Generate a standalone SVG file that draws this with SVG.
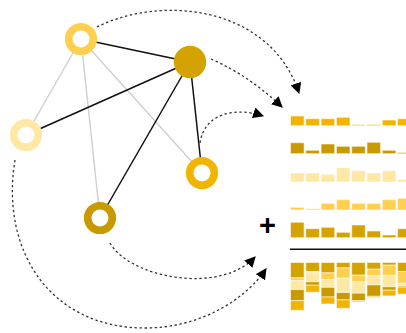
<svg xmlns="http://www.w3.org/2000/svg" width="406" height="333" viewBox="0 0 406 333">
<style>
.e{stroke:#111;stroke-width:1.5;fill:none}
.g{stroke:#cfcfcf;stroke-width:1.4;fill:none}
.d{stroke:#333;stroke-width:1.3;stroke-dasharray:2.4 2.6;fill:none;marker-end:url(#ah)}
.ring{fill:#fff;stroke-width:7.6}
.b rect{stroke:#fff;stroke-opacity:0.55;stroke-width:1}
.c1{fill:#F2B400}.c2{fill:#C99A00}.c3{fill:#FFE8A3}.c4{fill:#FFCF50}.c5{fill:#D4A300}
</style>
<defs>
<marker id="ah" viewBox="0 0 10 10" refX="9" refY="5" markerWidth="11" markerHeight="11" orient="auto" markerUnits="userSpaceOnUse">
<path d="M0,0 L10,5 L0,10 z" fill="#000"/>
</marker>
</defs>
<rect width="406" height="333" fill="#fff"/>
<g id="connectors">
<line class="g" x1="81" y1="39" x2="26" y2="135"/>
<line class="g" x1="81" y1="39" x2="100" y2="218"/>
<line class="g" x1="81" y1="39" x2="202" y2="173"/>
<line class="e" x1="81" y1="39" x2="190" y2="62"/>
<line class="e" x1="190" y1="62" x2="26" y2="135"/>
<line class="e" x1="190" y1="62" x2="100" y2="218"/>
<line class="e" x1="190" y1="62" x2="202" y2="173"/>
<path class="d" d="M97 27 C160 -5 270 5 299 93"/>
<path class="d" d="M211 59 C240 72 262 88 282 107"/>
<path class="d" d="M200 143 C205 110 240 108 263 116"/>
<path class="d" d="M110 243 C130 278 220 295 255 257"/>
<path class="d" d="M15 160 C0 250 50 328 145 328 C200 328 245 300 266 269"/>
</g>
<g id="node-a"><circle class="ring" cx="81" cy="39" r="12.3" stroke="#FFCF50"/></g>
<g id="node-b"><circle cx="190" cy="62" r="16.2" fill="#D4A300"/></g>
<g id="node-c"><circle class="ring" cx="26" cy="135" r="12.3" stroke="#FFE8A3"/></g>
<g id="node-d"><circle class="ring" cx="100" cy="218" r="12.3" stroke="#C99A00"/></g>
<g id="node-e"><circle class="ring" cx="202" cy="173" r="12.3" stroke="#F2B400"/></g>
<g id="bars" class="b">
<g class="c1">
<rect x="290.5" y="116" width="13.6" height="9.7"/>
<rect x="305.8" y="118.7" width="13.6" height="7"/>
<rect x="321.1" y="118.7" width="13.6" height="7"/>
<rect x="336.4" y="117.3" width="13.6" height="8.4"/>
<rect x="351.7" y="124.5" width="13.6" height="1.2"/>
<rect x="367" y="124.5" width="13.6" height="1.2"/>
<rect x="382.3" y="120" width="13.6" height="5.7"/>
<rect x="397.6" y="118.7" width="13.6" height="7"/>
</g>
<g class="c2">
<rect x="290.5" y="142.7" width="13.6" height="11"/>
<rect x="305.8" y="150.3" width="13.6" height="3.4"/>
<rect x="321.1" y="144" width="13.6" height="9.7"/>
<rect x="336.4" y="146.3" width="13.6" height="7.4"/>
<rect x="351.7" y="146.3" width="13.6" height="7.4"/>
<rect x="367" y="142.3" width="13.6" height="11.4"/>
<rect x="382.3" y="150.3" width="13.6" height="3.4"/>
<rect x="397.6" y="152.5" width="13.6" height="1.2"/>
</g>
<g class="c3">
<rect x="290.5" y="173" width="13.6" height="9"/>
<rect x="305.8" y="173" width="13.6" height="9"/>
<rect x="321.1" y="174.3" width="13.6" height="7.7"/>
<rect x="336.4" y="167.7" width="13.6" height="14.3"/>
<rect x="351.7" y="170.7" width="13.6" height="11.3"/>
<rect x="367" y="173" width="13.6" height="9"/>
<rect x="382.3" y="170.7" width="13.6" height="11.3"/>
<rect x="397.6" y="179.3" width="13.6" height="2.7"/>
</g>
<g class="c4">
<rect x="290.5" y="207.3" width="13.6" height="2.7"/>
<rect x="305.8" y="208.7" width="13.6" height="1.3"/>
<rect x="321.1" y="203.3" width="13.6" height="6.7"/>
<rect x="336.4" y="199.7" width="13.6" height="10.3"/>
<rect x="351.7" y="203.3" width="13.6" height="6.7"/>
<rect x="367" y="203.3" width="13.6" height="6.7"/>
<rect x="382.3" y="199.7" width="13.6" height="10.3"/>
<rect x="397.6" y="198.3" width="13.6" height="11.7"/>
</g>
<g class="c5">
<rect x="290.5" y="222.3" width="13.6" height="15.4"/>
<rect x="305.8" y="228.7" width="13.6" height="9"/>
<rect x="321.1" y="227.3" width="13.6" height="10.4"/>
<rect x="336.4" y="232.3" width="13.6" height="5.4"/>
<rect x="351.7" y="225" width="13.6" height="12.7"/>
<rect x="367" y="231" width="13.6" height="6.7"/>
<rect x="382.3" y="235" width="13.6" height="2.7"/>
<rect x="397.6" y="228.7" width="13.6" height="9"/>
</g>
</g>
<text x="267.5" y="235" font-family="Liberation Sans, Arial, sans-serif" font-size="29" font-weight="bold" text-anchor="middle" fill="#000">+</text>
<line x1="290" y1="249.3" x2="406" y2="249.3" stroke="#111" stroke-width="1.5"/>
<g id="stacked" class="b">
<rect class="c5" x="290.5" y="262.5" width="13.6" height="15.4"/>
<rect class="c4" x="290.5" y="277.9" width="13.6" height="2.7"/>
<rect class="c3" x="290.5" y="280.6" width="13.6" height="9"/>
<rect class="c2" x="290.5" y="289.6" width="13.6" height="11"/>
<rect class="c1" x="290.5" y="300.6" width="13.6" height="9.7"/>
<rect class="c5" x="305.8" y="262.5" width="13.6" height="9"/>
<rect class="c4" x="305.8" y="271.5" width="13.6" height="1.3"/>
<rect class="c3" x="305.8" y="272.8" width="13.6" height="9"/>
<rect class="c2" x="305.8" y="281.8" width="13.6" height="3.4"/>
<rect class="c1" x="305.8" y="285.2" width="13.6" height="7"/>
<rect class="c5" x="321.1" y="262.5" width="13.6" height="10.4"/>
<rect class="c4" x="321.1" y="272.9" width="13.6" height="6.7"/>
<rect class="c3" x="321.1" y="279.6" width="13.6" height="7.7"/>
<rect class="c2" x="321.1" y="287.3" width="13.6" height="9.7"/>
<rect class="c1" x="321.1" y="297" width="13.6" height="7"/>
<rect class="c5" x="336.4" y="262.5" width="13.6" height="5.4"/>
<rect class="c4" x="336.4" y="267.9" width="13.6" height="10.3"/>
<rect class="c3" x="336.4" y="278.2" width="13.6" height="14.3"/>
<rect class="c2" x="336.4" y="292.5" width="13.6" height="7.4"/>
<rect class="c1" x="336.4" y="299.9" width="13.6" height="8.4"/>
<rect class="c5" x="351.7" y="262.5" width="13.6" height="12.7"/>
<rect class="c4" x="351.7" y="275.2" width="13.6" height="6.7"/>
<rect class="c3" x="351.7" y="281.9" width="13.6" height="11.3"/>
<rect class="c2" x="351.7" y="293.2" width="13.6" height="7.4"/>
<rect class="c1" x="351.7" y="300.6" width="13.6" height="1.2"/>
<rect class="c5" x="367" y="262.5" width="13.6" height="6.7"/>
<rect class="c4" x="367" y="269.2" width="13.6" height="6.7"/>
<rect class="c3" x="367" y="275.9" width="13.6" height="9"/>
<rect class="c2" x="367" y="284.9" width="13.6" height="11.4"/>
<rect class="c1" x="367" y="296.3" width="13.6" height="1.2"/>
<rect class="c5" x="382.3" y="262.5" width="13.6" height="2.7"/>
<rect class="c4" x="382.3" y="265.2" width="13.6" height="10.3"/>
<rect class="c3" x="382.3" y="275.5" width="13.6" height="11.3"/>
<rect class="c2" x="382.3" y="286.8" width="13.6" height="3.4"/>
<rect class="c1" x="382.3" y="290.2" width="13.6" height="5.7"/>
<rect class="c5" x="397.6" y="262.5" width="13.6" height="9"/>
<rect class="c4" x="397.6" y="271.5" width="13.6" height="11.7"/>
<rect class="c3" x="397.6" y="283.2" width="13.6" height="2.7"/>
<rect class="c2" x="397.6" y="285.9" width="13.6" height="1.2"/>
<rect class="c1" x="397.6" y="287.1" width="13.6" height="7"/>
</g>
</svg>
